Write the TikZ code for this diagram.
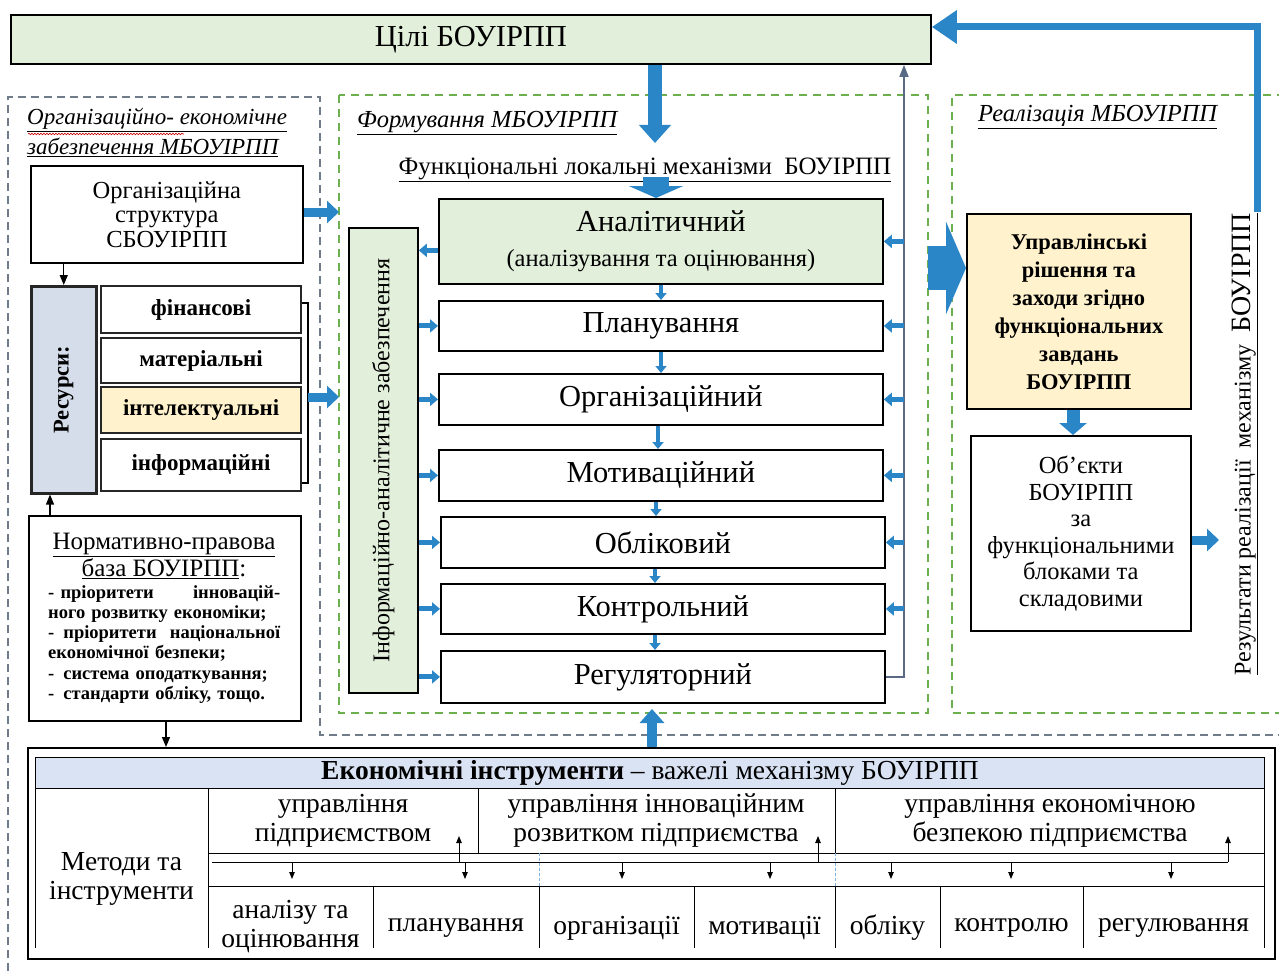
\documentclass[tikz,border=0pt]{standalone}
\usepackage{fontspec}
\setmainfont{Liberation Serif}
\usetikzlibrary{arrows.meta,calc,decorations.pathmorphing}

\definecolor{goalgreen}{HTML}{E2EFDA}
\definecolor{noteyellow}{HTML}{FFF2CC}
\definecolor{resblue}{HTML}{D5DCEA}
\definecolor{headblue}{HTML}{DAE3F3}
\definecolor{flowblue}{HTML}{2B86C8}
\definecolor{railgray}{HTML}{5A6A84}
\definecolor{zonegreen}{HTML}{6BAF4F}
\definecolor{zonegray}{HTML}{707C8A}
\definecolor{gridblue}{HTML}{7DB0DE}

\newcommand{\fsz}[2]{\fontsize{#1pt}{#2pt}\selectfont}

\begin{document}
\begin{tikzpicture}[x=1pt,y=-1pt,
  box/.style={draw=black, line width=1.8pt, align=center, inner sep=2pt},
  cbox/.style={box, anchor=north west, minimum width=444pt, font=\fsz{30.5}{34}},
  resbox/.style={draw=black!85, line width=2.2pt, anchor=north west, minimum width=200pt, font=\fsz{23}{26}\bfseries, inner sep=1pt},
  sarrow/.style={draw=flowblue, line width=5pt, -{Triangle[length=8pt,width=13pt]}},
  varrow/.style={draw=flowblue, line width=4.5pt, -{Triangle[length=7pt,width=11pt]}},
  marrow/.style={draw=flowblue, line width=9pt, -{Triangle[length=12pt,width=22pt]}},
  blk/.style={draw=black, line width=1.2pt, -{Triangle[length=10pt,width=8pt]}},
  busarrow/.style={draw=black, line width=0.9pt, -{Triangle[length=7pt,width=5.5pt]}},
  tabline/.style={draw=black, line width=1pt},
  zonegr/.style={draw=zonegreen, line width=1.4pt, dash pattern=on 8pt off 6pt},
  celltext/.style={align=center, inner sep=0pt, font=\fsz{27.5}{29}},
]
\useasboundingbox (0,0) rectangle (1279,971);

% dashed zones
\draw[draw=zonegray, line width=1.2pt, dash pattern=on 8pt off 5pt]
  (8,971) -- (8,97) -- (320,97) -- (320,735) -- (1279,735);
\draw[zonegr] (339,95) rectangle (928,713);
\draw[zonegr] (1285,95) -- (952,95) -- (952,713) -- (1285,713);

% goals
\node[box, fill=goalgreen, anchor=north west, minimum width=920pt, minimum height=49pt,
      font=\fsz{30.5}{34}] (goals) at (10,14) {Цілі БОУІРПП};

% zone titles
\node[anchor=west, inner sep=0pt, font=\fsz{23}{27}\itshape] (orgtitleA) at (27,120) {\underline{Організаційно- економічне}};
\node[anchor=west, inner sep=0pt, font=\fsz{23}{27}\itshape] (orgtitleB) at (27,147) {\underline{забезпечення МБОУІРПП}};
\draw[red!80!black, line width=0.6pt, decorate, decoration={snake, amplitude=0.8pt, segment length=3pt}]
  (28,134) -- (184,134);
\node[anchor=west, inner sep=0pt, font=\fsz{24.5}{28}\itshape] (formtitle) at (357,123) {\underline{Формування МБОУІРПП}};
\node[anchor=west, inner sep=0pt, font=\fsz{24.5}{28}\itshape] (realtitle) at (978,117) {\underline{Реалізація МБОУІРПП}};
\node[inner sep=0pt, font=\fsz{25}{28}] (functitle) at (645,170) {\underline{Функціональні локальні механізми\ \ БОУІРПП}};

% functional mechanisms
\node[cbox, fill=goalgreen, minimum height=85pt] (anal) at (438,198)
  {Аналітичний\\[1pt]{\fsz{24.5}{28}(аналізування та оцінювання)}};
\node[cbox, minimum height=50pt] (plan) at (438,300) {Планування};
\node[cbox, minimum height=51pt] (orgf) at (438,373) {Організаційний};
\node[cbox, minimum height=51pt] (motv) at (438,449) {Мотиваційний};
\node[cbox, minimum height=51pt] (oblk) at (440,516) {Обліковий};
\node[cbox, minimum height=50pt] (ctrl) at (440,583) {Контрольний};
\node[cbox, minimum height=52pt] (regl) at (440,650) {Регуляторний};

\node[box, fill=goalgreen, anchor=north west, minimum width=69pt, minimum height=465pt] (inf) at (348,227) {};
\node[rotate=90, inner sep=0pt, font=\fsz{24}{28}] (inftext) at (inf.center) {Інформаційно-аналітичне забезпечення};

% feedback rail
\coordinate (railx) at (904,400);
\draw[railgray, line width=1.6pt, -{Triangle[length=12pt,width=9pt]}]
  (regl.east) -- (regl.east -| railx) -- (railx |- goals.south);
\foreach \b in {anal,plan,orgf,motv,oblk,ctrl}
  \draw[sarrow] (\b.east -| railx) -- (\b.east);
\foreach \b in {plan,orgf,motv,oblk,ctrl,regl}
  \draw[sarrow] (\b.west -| inf.east) -- (\b.west);
\coordinate (analout) at ($(anal.west)+(0,9)$);
\draw[sarrow] (analout) -- (analout -| inf.east);
\foreach \a/\b/\x in {anal/plan/661, plan/orgf/661, orgf/motv/658, motv/oblk/656, oblk/ctrl/655, ctrl/regl/655}{
  \coordinate (vx) at (\x,0);
  \draw[varrow] (\a.south -| vx) -- (\b.north -| vx);
}

% main flow from goals
\coordinate (mainx) at (655,0);
\coordinate (goaltip) at (655,143);
\draw[draw=flowblue, line width=14pt, -{Triangle[length=18pt,width=31pt]}] (goals.south -| mainx) -- (goaltip);
\coordinate (stubtop) at (656,177);
\draw[draw=flowblue, line width=26pt, -{Triangle[length=12pt,width=54pt]}] (stubtop) -- (stubtop |- anal.north);

% realisation
\node[box, fill=noteyellow, anchor=north west, minimum width=224pt, minimum height=195pt,
      font=\fsz{22.5}{28}\bfseries] (mgmt) at (966,213)
  {Управлінські\\рішення та\\заходи згідно\\функціональних\\завдань\\БОУІРПП};
\node[box, anchor=north west, minimum width=220pt, minimum height=195pt,
      font=\fsz{24.5}{26.5}] (obj) at (970,435)
  {Об’єкти\\БОУІРПП\\за\\функціональними\\блоками та\\складовими};
\coordinate (bigarr) at (928,268);
\draw[draw=flowblue, line width=44pt, -{Triangle[length=20pt,width=92pt]}] (bigarr) -- (bigarr -| mgmt.west);
\coordinate (mox) at (1073,0);
\draw[draw=flowblue, line width=13pt, -{Triangle[length=12pt,width=27pt]}] (mgmt.south -| mox) -- (obj.north -| mox);
\coordinate (objout) at (1219,540);
\draw[marrow] (objout -| obj.east) -- (objout);
\node[rotate=90, inner sep=0pt, font=\fsz{24}{28}] (results) at (1245,444)
  {\underline{Результати реалізації\ \ механізму\ \ {\fsz{28}{30}БОУІРПП}}};
\coordinate (fbstart) at (1257,212);
\coordinate (fby) at (0,27);
\draw[draw=flowblue, line width=7pt, line join=miter, -{Triangle[length=25pt,width=32pt]}]
  (fbstart) |- (goals.east |- fby);

% organisational support
\node[box, anchor=north west, minimum width=272pt, minimum height=97pt, font=\fsz{24.5}{24.5}] (orgstr) at (30,165)
  {Організаційна\\структура\\СБОУІРПП};
\coordinate (orgout) at (339,212);
\draw[marrow] (orgout -| orgstr.east) -- (orgout);

\node[draw=black!85, line width=2.5pt, fill=resblue, anchor=north west, minimum width=65pt, minimum height=207pt] (res) at (30,285) {};
\node[rotate=90, inner sep=0pt, font=\fsz{22.5}{24}\bfseries] (restext) at (res.center) {Ресурси:};
\node[resbox, minimum height=47pt] (fin) at (100,285) {фінансові};
\node[resbox, minimum height=45pt] (mat) at (100,337) {матеріальні};
\node[resbox, minimum height=46pt, fill=noteyellow] (intel) at (100,386) {інтелектуальні};
\node[resbox, minimum height=52pt] (infm) at (100,438) {інформаційні};
\draw[line width=1.5pt] (302,303) -- (308,303) -- (308,483) -- (302,483);
\coordinate (brkmid) at (308,397);
\coordinate (resout) at (339,397);
\draw[marrow] (brkmid) -- (resout);
\draw[blk] (orgstr.south -| res.center) -- (res.north);

\node[box, anchor=north west, minimum width=272pt, minimum height=205pt] (norm) at (28,515) {};
\coordinate (normtop) at (50,0);
\draw[blk] (norm.north -| normtop) -- (res.south -| normtop);
\node[inner sep=0pt, align=center, font=\fsz{25}{25}] (normhead) at (164,556)
  {\underline{Нормативно-правова}\\\underline{база БОУІРПП}:};
\node[anchor=north west, inner sep=0pt, text width=232pt, align=left, font=\fsz{18.5}{20.3}\bfseries] (normlist) at (48,585)
  {\makebox[232pt][s]{- пріоритети\hfill інновацій-}\\
   ного розвитку економіки;\\
   \makebox[232pt][s]{-\hspace{9pt}пріоритети\hfill національної}\\
   економічної безпеки;\\
   -\hspace{9pt}система оподаткування;\\
   -\hspace{9pt}стандарти обліку, тощо.};

% economic instruments
\node[draw=black, line width=2pt, anchor=north west, minimum width=1247pt, minimum height=211pt] (tools) at (27,747) {};
\coordinate (normdown) at (166,0);
\draw[blk] (norm.south -| normdown) -- (tools.north -| normdown);
\coordinate (upx) at (652,0);
\coordinate (uptip) at (652,709);
\draw[draw=flowblue, line width=10pt, -{Triangle[length=14pt,width=24pt]}] (tools.north -| upx) -- (uptip);

\node[draw=black, line width=1pt, fill=headblue, anchor=north west, minimum width=1229pt, minimum height=31pt,
      inner sep=0pt, font=\fsz{27.5}{29}] (hdr) at (35,757)
  {\textbf{Економічні інструменти} – важелі механізму БОУІРПП};
\draw[tabline] (35,788) -- (35,948);
\draw[tabline] (1264,788) -- (1264,948);
\draw[tabline] (208,788) -- (208,948);
\draw[tabline] (208,853) -- (1264,853);
\draw[tabline] (208,886) -- (1264,886);
\draw[tabline] (478,788) -- (478,853);
\draw[tabline] (835,788) -- (835,853);
\foreach \x in {373,539,694,835,940,1083} \draw[tabline] (\x,886) -- (\x,948);
\draw[gridblue, line width=0.8pt, dash pattern=on 3pt off 2pt] (539,853) -- (539,886);
\draw[gridblue, line width=0.8pt, dash pattern=on 3pt off 2pt] (835,853) -- (835,886);

\coordinate (busL) at (212,862);
\coordinate (busR) at (1228,862);
\draw[line width=1pt] (busL) -- (busR);
\foreach \x in {459,818,1228}{
  \coordinate (up\x) at (\x,862);
  \coordinate (uptop\x) at (\x,836);
  \draw[busarrow] (up\x) -- (uptop\x);
}
\foreach \x in {292,465,622,770,891,1011,1171}{
  \coordinate (dn\x) at (\x,862);
  \coordinate (dnend\x) at (\x,879);
  \draw[busarrow] (dn\x) -- (dnend\x);
}

\node[celltext] (cellA) at (343,821) {управління\\підприємством};
\node[celltext] (cellB) at (656,821) {управління інноваційним\\розвитком підприємства};
\node[celltext] (cellC) at (1050,821) {управління економічною\\безпекою підприємства};
\node[celltext] (methods) at (121.5,879) {Методи та\\інструменти};
\node[celltext] (toolA) at (290.5,927) {аналізу та\\оцінювання};
\node[celltext] (toolB) at (456,928) {планування};
\node[celltext] (toolC) at (616.5,928) {організації};
\node[celltext] (toolD) at (764.5,928) {мотивації};
\node[celltext] (toolE) at (887.5,928) {обліку};
\node[celltext] (toolF) at (1011.5,928) {контролю};
\node[celltext] (toolG) at (1173.5,928) {регулювання};
\end{tikzpicture}
\end{document}
